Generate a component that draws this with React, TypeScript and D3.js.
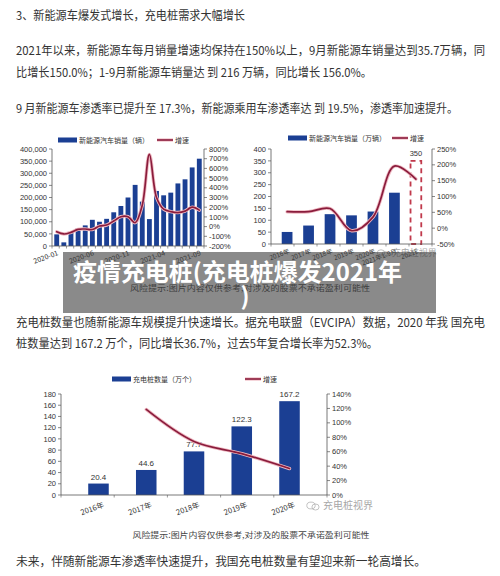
import React from 'react';
import * as d3 from 'd3';

const SANS = '"Liberation Sans", "Noto Sans CJK SC", sans-serif';
const CJK = '"Noto Sans CJK SC", "Noto Sans", sans-serif';
const BLUE = '#1b3f93';
const RED = '#8a1c3c';
const HALO = '#efb9c2';
const INK = '#333';

// chart 1: monthly NEV sales (vehicles) and yoy growth (%)
const monthCats = ['2020-01', '2020-02', '2020-03', '2020-04', '2020-05', '2020-06', '2020-07',
  '2020-08', '2020-09', '2020-10', '2020-11', '2020-12', '2021-01', '2021-02', '2021-03',
  '2021-04', '2021-05', '2021-06', '2021-07', '2021-08', '2021-09'];
const monthSales = [48000, 15000, 58000, 73000, 85000, 108000, 100000, 112000, 139000, 165000,
  200000, 252000, 183000, 111000, 227000, 209000, 220000, 258000, 275000, 324000, 360000];
const monthGrowth = [-53, -76, -59, -28, -25, -30, 6, 16, 58, 102, 102, 40, 220, 745, 300, 180,
  155, 145, 160, 200, 170];
const monthTickLabels = ['2020-01', '2020-06', '2020-11', '2021-04', '2021-09'];
const monthLeftTicks = [0, 50000, 100000, 150000, 200000, 250000, 300000, 350000, 400000];
const monthRightTicks = [-200, -100, 0, 100, 200, 300, 400, 500, 600, 700, 800];

// chart 2: yearly NEV sales (10k vehicles) and growth (%)
const yearCats = ['2016年', '2017年', '2018年', '2019年', '2020年', '2021年1-9月', '2021E'];
const yearSales = [50.7, 77.7, 125.6, 120.6, 136.7, 216, 350];
const yearGrowth = [52, 52, 62, -8, 35, 196, 155];
const yearLeftTicks = [0, 50, 100, 150, 200, 250, 300, 350, 400];
const yearRightTicks = [-50, 0, 50, 100, 150, 200, 250];

// chart 3: charging piles (10k units) and growth (%)
const pileCats = ['2016年', '2017年', '2018年', '2019年', '2020年'];
const pileCount = [20.4, 44.6, 77.7, 122.3, 167.2];
const pileGrowth = [null, 118.6, 74.2, 57.4, 36.7];
const pileLeftTicks = [0, 20, 40, 60, 80, 100, 120, 140, 160, 180];
const pileRightTicks = [0, 20, 40, 60, 80, 100, 120, 140];

const paragraphs = [
  { t: '3、新能源车爆发式增长，充电桩需求大幅增长', y: 19.5, w: 229 },
  { t: '2021年以来，新能源车每月销量增速均保持在150%以上，9月新能源车销量达到35.7万辆，同', y: 54.5, w: 469 },
  { t: '比增长150.0%；1-9月新能源车销量达 到 216 万辆，同比增长 156.0%。', y: 77, w: 356 },
  { t: '9 月新能源车渗透率已提升至 17.3%，新能源乘用车渗透率达 到 19.5%，渗透率加速提升。', y: 112.5, w: 442 },
  { t: '充电桩数量也随新能源车规模提升快速增长。据充电联盟（EVCIPA）数据，2020 年我 国充电', y: 326.5, w: 469 },
  { t: '桩数量达到 167.2 万个，同比增长36.7%，过去5年复合增长率为52.3%。', y: 347.5, w: 362 },
  { t: '未来，伴随新能源车渗透率快速提升，我国充电桩数量有望迎来新一轮高增长。', y: 566, w: 410 },
];

type ChartProps = {
  cats: string[];
  bars: number[];
  line: (number | null)[];
  x0: number; x1: number; yTop: number; yBot: number;
  leftDomain: [number, number]; leftTicks: number[]; leftFmt: (v: number) => string;
  rightDomain: [number, number]; rightTicks: number[];
  padding: number;
  tickLabels: string[];
  labelDx: number; labelY: number; labelSize: number;
  barLabels?: boolean;
  dashedLast?: boolean;
  legend: { x: number; y: number; text: string; lx: number };
};

const Combo = (p: ChartProps) => {
  const x = d3.scaleBand<string>().domain(p.cats).range([p.x0, p.x1]).padding(p.padding);
  const yL = d3.scaleLinear().domain(p.leftDomain).range([p.yBot, p.yTop]);
  const yR = d3.scaleLinear().domain(p.rightDomain).range([p.yBot, p.yTop]);
  const cx = (c: string) => (x(c) as number) + x.bandwidth() / 2;
  const pts = p.cats.map((c, i) => [cx(c), p.line[i]] as [number, number | null])
    .filter((d) => d[1] !== null) as [number, number][];
  const path = d3.line<[number, number]>()
    .x((d) => d[0]).y((d) => yR(d[1]))
    .curve(d3.curveCatmullRom.alpha(0.5))(pts) || '';
  const n = p.cats.length;
  return (
    <g>
      {/* legend */}
      <rect x={p.legend.x} y={p.legend.y - 2.5} width={19} height={5} fill={BLUE} />
      <text x={p.legend.x + 21} y={p.legend.y + 2.5} fontSize={7} fontFamily={CJK} fill={INK}>{p.legend.text}</text>
      <line x1={p.legend.lx} x2={p.legend.lx + 16} y1={p.legend.y} y2={p.legend.y} stroke={HALO} strokeWidth={3.2} />
      <line x1={p.legend.lx} x2={p.legend.lx + 16} y1={p.legend.y} y2={p.legend.y} stroke={RED} strokeWidth={1.6} />
      <text x={p.legend.lx + 18} y={p.legend.y + 2.5} fontSize={7} fontFamily={CJK} fill={INK}>增速</text>

      {/* left axis */}
      <line x1={p.x0} x2={p.x0} y1={p.yTop} y2={p.yBot} stroke="#555" strokeWidth={0.8} />
      {p.leftTicks.map((t) => (
        <g key={'l' + t}>
          <line x1={p.x0 - 3} x2={p.x0} y1={yL(t)} y2={yL(t)} stroke="#555" strokeWidth={0.7} />
          <text x={p.x0 - 5} y={yL(t)} dy="0.35em" textAnchor="end" fontSize={7.5} fontFamily={SANS} fill={INK}>{p.leftFmt(t)}</text>
        </g>
      ))}
      {/* right axis */}
      <line x1={p.x1} x2={p.x1} y1={p.yTop} y2={p.yBot} stroke="#555" strokeWidth={0.8} />
      {p.rightTicks.map((t) => (
        <g key={'r' + t}>
          <line x1={p.x1} x2={p.x1 + 3} y1={yR(t)} y2={yR(t)} stroke="#555" strokeWidth={0.7} />
          <text x={p.x1 + 5} y={yR(t)} dy="0.35em" fontSize={7.5} fontFamily={SANS} fill={INK}>{t + '%'}</text>
        </g>
      ))}
      {/* bars */}
      {p.cats.map((c, i) => {
        const dashed = p.dashedLast && i === n - 1;
        return (
          <rect key={c} x={x(c)} y={yL(p.bars[i])} width={x.bandwidth()} height={p.yBot - yL(p.bars[i])}
            fill={dashed ? 'none' : BLUE} stroke={dashed ? '#c0394b' : 'none'}
            strokeWidth={dashed ? 1.8 : 0} strokeDasharray={dashed ? '5,4' : undefined} />
        );
      })}
      {p.barLabels && p.cats.map((c, i) => (
        <text key={'b' + c} x={cx(c)} y={yL(p.bars[i]) - 4} textAnchor="middle" fontSize={8} fontFamily={SANS} fill={INK}>{p.bars[i]}</text>
      ))}
      {p.dashedLast && (
        <text x={cx(p.cats[n - 1])} y={yL(p.bars[n - 1]) - 5} textAnchor="middle" fontSize={7.5} fontFamily={SANS} fill={INK}>{p.bars[n - 1]}</text>
      )}
      {/* x axis */}
      <line x1={p.x0} x2={p.x1} y1={p.yBot} y2={p.yBot} stroke="#555" strokeWidth={0.8} />
      {d3.range(n + 1).map((i) => {
        const xx = p.x0 + (i * (p.x1 - p.x0)) / n;
        return <line key={'t' + i} x1={xx} x2={xx} y1={p.yBot} y2={p.yBot + 2.5} stroke="#555" strokeWidth={0.6} />;
      })}
      {p.tickLabels.map((c) => (
        <text key={'x' + c} transform={`translate(${cx(c) + p.labelDx},${p.labelY}) rotate(-20)`}
          textAnchor="end" fontSize={p.labelSize} fontFamily={CJK} fill={INK}>{c}</text>
      ))}
      {/* growth line */}
      <path d={path} fill="none" stroke={HALO} strokeWidth={3.4} strokeLinecap="round" />
      <path d={path} fill="none" stroke={RED} strokeWidth={1.7} strokeLinecap="round" />
    </g>
  );
};

const Watermark = ({ x, y, size }: { x: number; y: number; size: number }) => (
  <g opacity={0.75}>
    <ellipse cx={x} cy={y - size * 0.35} rx={size * 0.42} ry={size * 0.34} fill="none" stroke="#9a9a9a" strokeWidth={0.8} />
    <ellipse cx={x + size * 0.45} cy={y - size * 0.2} rx={size * 0.36} ry={size * 0.3} fill="none" stroke="#9a9a9a" strokeWidth={0.8} />
    <text x={x + size * 1.2} y={y} fontSize={size} fontFamily={CJK} fill="#8a8a8a">充电桩视界</text>
  </g>
);

export default function App() {
  const fmtComma = d3.format(',');
  return (
    <svg width={500} height={576} viewBox="0 0 500 576"
      style={{ position: 'absolute', left: 0, top: 0, background: '#fff' }}>
      <rect width={500} height={576} fill="#fff" />
      {paragraphs.map((p) => (
        <text key={p.t} x={16} y={p.y} fontSize={12} fontFamily={CJK} fill={INK}
          textLength={p.w} lengthAdjust="spacingAndGlyphs">{p.t}</text>
      ))}

      <Combo cats={monthCats} bars={monthSales} line={monthGrowth}
        x0={52} x1={204} yTop={149} yBot={246}
        leftDomain={[0, 400000]} leftTicks={monthLeftTicks} leftFmt={(v) => fmtComma(v)}
        rightDomain={[-200, 800]} rightTicks={monthRightTicks}
        padding={0.32} tickLabels={monthTickLabels} labelDx={2} labelY={255} labelSize={7}
        legend={{ x: 58, y: 140, text: '新能源汽车销量（辆）', lx: 157 }} />

      <Combo cats={yearCats} bars={yearSales} line={yearGrowth}
        x0={271} x1={432} yTop={149} yBot={244}
        leftDomain={[0, 400]} leftTicks={yearLeftTicks} leftFmt={(v) => String(v)}
        rightDomain={[-50, 250]} rightTicks={yearRightTicks}
        padding={0.5} tickLabels={yearCats} labelDx={3} labelY={253} labelSize={6.5}
        dashedLast
        legend={{ x: 288, y: 138, text: '新能源汽车销量（万辆）', lx: 392 }} />
      <Watermark x={381} y={256} size={9} />

      <Combo cats={pileCats} bars={pileCount} line={pileGrowth}
        x0={61} x1={327} yTop={394} yBot={495}
        leftDomain={[0, 180]} leftTicks={pileLeftTicks} leftFmt={(v) => String(v)}
        rightDomain={[0, 140]} rightTicks={pileRightTicks}
        padding={0.57} tickLabels={pileCats} labelDx={6} labelY={507} labelSize={7.5}
        barLabels
        legend={{ x: 112, y: 379, text: '充电桩数量（万个）', lx: 245 }} />
      <Watermark x={311} y={509} size={10} />

      <text x={250} y={291} textAnchor="middle" fontSize={8.5} fontFamily={CJK} fill="#444"
        textLength={240} lengthAdjust="spacingAndGlyphs">风险提示:图片内容仅供参考,对涉及的股票不承诺盈利可能性</text>
      <text x={251} y={538} textAnchor="middle" fontSize={8.5} fontFamily={CJK} fill="#444"
        textLength={237} lengthAdjust="spacingAndGlyphs">风险提示:图片内容仅供参考,对涉及的股票不承诺盈利可能性</text>

      {/* title band */}
      <rect x={63} y={252} width={373} height={61} fill="#3c3c3c" opacity={0.6} />
      <text x={73} y={281} fontSize={24} fontWeight="bold" fontFamily={CJK} fill="#fff"
        textLength={329} lengthAdjust="spacingAndGlyphs">疫情充电桩(充电桩爆发2021年</text>
      <text x={245} y={305} textAnchor="middle" fontSize={24} fontWeight="bold" fontFamily={CJK} fill="#fff">)</text>
    </svg>
  );
}
